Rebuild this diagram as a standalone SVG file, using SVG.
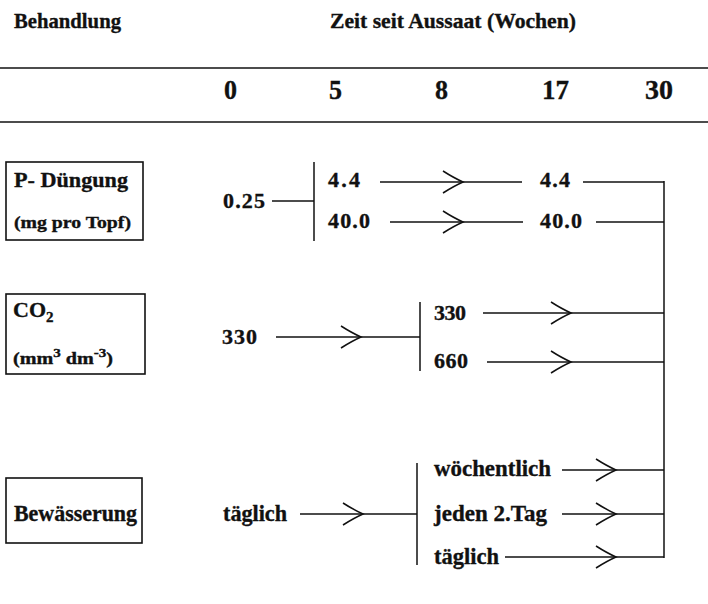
<svg xmlns="http://www.w3.org/2000/svg" xmlns:xlink="http://www.w3.org/1999/xlink" width="708" height="604" viewBox="0 0 708 604">
<style>
text{font-family:"Liberation Serif","Times New Roman",serif;font-weight:bold;fill:#111;stroke:#111;stroke-width:0.35}
.h{font-size:22px}
.n{font-size:28px}
.t{font-size:22px}
.s{font-size:16px}
.w{font-size:23px}
.ln{stroke:#111;stroke-width:1.5;fill:none}
.box{stroke:#111;stroke-width:1.6;fill:#fff}
</style>
<defs>
<path id="chev" d="M -20 -11 Q -9 -4 0 0 Q -9 4 -20 11" fill="none" stroke="#111" stroke-width="1.5"/>
</defs>
<rect width="708" height="604" fill="#fff"/>
<g id="header">
<text class="h" x="14" y="28" textLength="107" lengthAdjust="spacingAndGlyphs">Behandlung</text>
<text class="h" x="330" y="28" textLength="246" lengthAdjust="spacingAndGlyphs">Zeit seit Aussaat (Wochen)</text>
<line class="ln" x1="0" y1="68" x2="708" y2="68"/>
<line class="ln" x1="0" y1="122" x2="708" y2="122"/>
<text class="n" x="224" y="99" textLength="13" lengthAdjust="spacingAndGlyphs">0</text>
<text class="n" x="329" y="99" textLength="13" lengthAdjust="spacingAndGlyphs">5</text>
<text class="n" x="435" y="99" textLength="13" lengthAdjust="spacingAndGlyphs">8</text>
<text class="n" x="542" y="99" textLength="27" lengthAdjust="spacingAndGlyphs">17</text>
<text class="n" x="645" y="99" textLength="28" lengthAdjust="spacingAndGlyphs">30</text>
</g>
<g id="node-p">
<rect class="box" x="6" y="162" width="137" height="78"/>
<text class="t" x="14" y="187" textLength="114" lengthAdjust="spacingAndGlyphs">P- Düngung</text>
<text class="s" x="14" y="228" textLength="117" lengthAdjust="spacingAndGlyphs">(mg pro Topf)</text>
</g>
<g id="node-co2">
<rect class="box" x="6" y="294" width="139" height="80"/>
<text class="t" x="13" y="317">CO<tspan font-size="15" dy="5">2</tspan></text>
<text class="s" x="13" y="364" textLength="100" lengthAdjust="spacingAndGlyphs">(mm<tspan font-size="12" dy="-7">3</tspan><tspan dy="7"> dm</tspan><tspan font-size="12" dy="-7">-3</tspan><tspan dy="7">)</tspan></text>
</g>
<g id="node-bew">
<rect class="box" x="6" y="478" width="136" height="65"/>
<text class="w" x="14" y="521" textLength="123" lengthAdjust="spacingAndGlyphs">Bewässerung</text>
</g>
<g id="values">
<text class="t" x="223" y="208" textLength="42" lengthAdjust="spacing">0.25</text>
<text class="t" x="328" y="187" textLength="32" lengthAdjust="spacing">4.4</text>
<text class="t" x="328" y="228" textLength="42" lengthAdjust="spacing">40.0</text>
<text class="t" x="540" y="187" textLength="30" lengthAdjust="spacing">4.4</text>
<text class="t" x="540" y="228" textLength="42" lengthAdjust="spacing">40.0</text>
<text class="t" x="222" y="344" textLength="35" lengthAdjust="spacing">330</text>
<text class="t" x="434" y="320" textLength="32" lengthAdjust="spacing">330</text>
<text class="t" x="434" y="368" textLength="34" lengthAdjust="spacing">660</text>
<text class="w" x="223" y="521" textLength="64" lengthAdjust="spacingAndGlyphs">täglich</text>
<text class="w" x="434" y="476" textLength="117" lengthAdjust="spacingAndGlyphs">wöchentlich</text>
<text class="w" x="434" y="521" textLength="113" lengthAdjust="spacingAndGlyphs">jeden 2.Tag</text>
<text class="w" x="434" y="564" textLength="65" lengthAdjust="spacingAndGlyphs">täglich</text>
</g>
<g id="connectors">
<line class="ln" x1="272" y1="201" x2="314" y2="201"/>
<line class="ln" x1="314" y1="162" x2="314" y2="241"/>
<line class="ln" x1="380" y1="182" x2="522" y2="182"/>
<use xlink:href="#chev" x="463" y="182"/>
<line class="ln" x1="583" y1="182" x2="664" y2="182"/>
<line class="ln" x1="390" y1="222" x2="523" y2="222"/>
<use xlink:href="#chev" x="463" y="222"/>
<line class="ln" x1="596" y1="222" x2="664" y2="222"/>
<line class="ln" x1="276" y1="337" x2="420" y2="337"/>
<use xlink:href="#chev" x="361" y="337"/>
<line class="ln" x1="420" y1="302" x2="420" y2="371"/>
<line class="ln" x1="483" y1="313" x2="664" y2="313"/>
<use xlink:href="#chev" x="571" y="313"/>
<line class="ln" x1="487" y1="362" x2="664" y2="362"/>
<use xlink:href="#chev" x="571" y="362"/>
<line class="ln" x1="300" y1="514" x2="417" y2="514"/>
<use xlink:href="#chev" x="363" y="514"/>
<line class="ln" x1="417" y1="463" x2="417" y2="565"/>
<line class="ln" x1="562" y1="470" x2="664" y2="470"/>
<use xlink:href="#chev" x="616" y="470"/>
<line class="ln" x1="562" y1="514" x2="664" y2="514"/>
<use xlink:href="#chev" x="616" y="514"/>
<line class="ln" x1="505" y1="557" x2="664" y2="557"/>
<use xlink:href="#chev" x="616" y="557"/>
<line class="ln" x1="664" y1="181" x2="664" y2="558"/>
</g>
</svg>
